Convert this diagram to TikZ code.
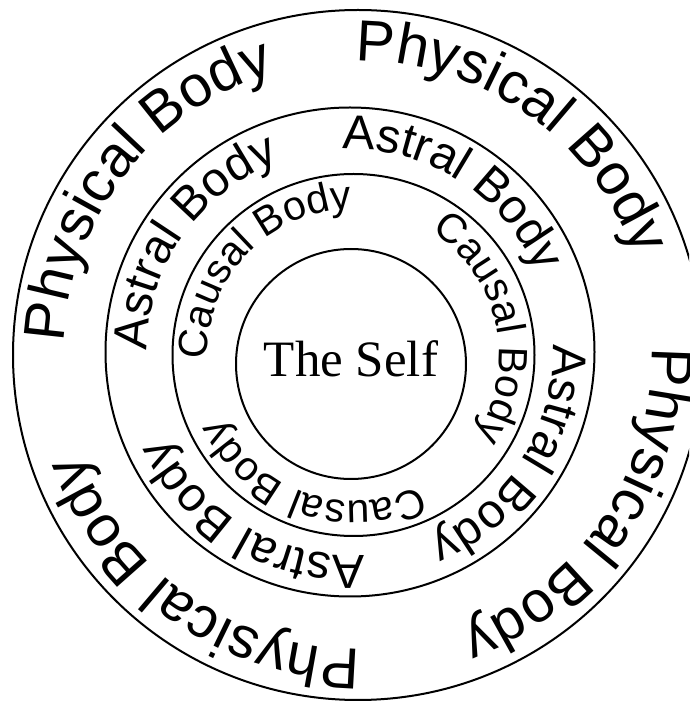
\documentclass[tikz,border=0pt]{standalone}
\usepackage{fontspec}
\setmainfont{Liberation Serif}
\newfontfamily\ringfont{Liberation Sans}
\usetikzlibrary{decorations.text}

% ring label fonts
\newcommand{\physfont}{\ringfont\fontsize{58}{58}\selectfont}
\newcommand{\astrfont}{\ringfont\fontsize{48}{48}\selectfont}
\newcommand{\causfont}{\ringfont\fontsize{41}{41}\selectfont}

\begin{document}
\begin{tikzpicture}[x=1pt, y=1pt,
    ring/.style={line width=2pt},
    ringtext/.style={decorate, decoration={text along path, text align=center, text={#1}}},
]
    \useasboundingbox (0,0) rectangle (689,705);
    \clip (0,0) rectangle (689,705);

    % centres of the rings
    \coordinate (phys) at (358,350);
    \coordinate (astr) at (350,353);
    \coordinate (caus) at (353.5,350);
    \coordinate (selfc) at (351,341);

    % the four circles
    \draw[ring] (phys) circle[radius=345];
    \draw[ring] (astr) circle[radius=244.5];
    \draw[ring] (caus) circle[radius=181];
    \draw[ring] (selfc) circle[radius=115];

    % The Self
    \node[font=\fontsize{51}{51}\selectfont] (self) at (351,346.5) {The Self};

    % Physical Body ring
    \foreach \a in {142,55,-34,-125}
        \path[ringtext={|\physfont|Physical Body}] ([shift={(\a+45:294)}]phys) arc[start angle=\a+45, end angle=\a-45, radius=294];

    % Astral Body ring
    \foreach \a in {145,57.5,-32.5,-120.6}
        \path[ringtext={|\astrfont|Astral Body}] ([shift={(\a+45:203)}]astr) arc[start angle=\a+45, end angle=\a-45, radius=203];

    % Causal Body ring
    \foreach \a in {136.2,12.3,-108.9}
        \path[ringtext={|\causfont|Causal Body}] ([shift={(\a+55:146)}]caus) arc[start angle=\a+55, end angle=\a-55, radius=146];
\end{tikzpicture}
\end{document}
